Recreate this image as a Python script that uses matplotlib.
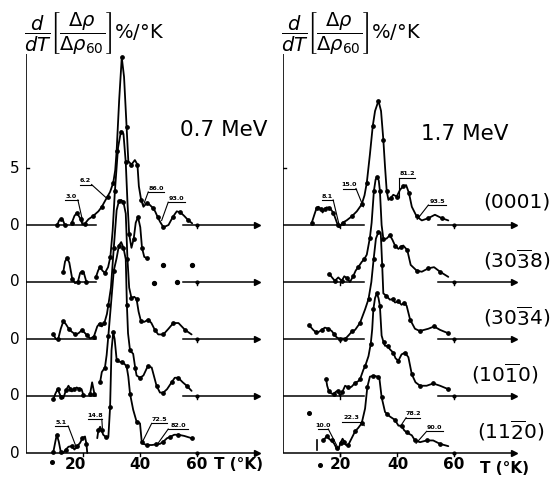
import numpy as np
import matplotlib
matplotlib.use('Agg')
import matplotlib.pyplot as plt

nan = np.nan

# ---------------- data: (T in K, d/dT value relative to own baseline) ----------------
ORIENT_TEXT = ['(0001)', r'(30$\mathregular{\overline{3}}$8)', r'(30$\mathregular{\overline{3}}$4)',
               r'(10$\mathregular{\overline{1}}$0)', r'(11$\mathregular{\overline{2}}$0)']
OFFSETS = [20, 15, 10, 5, 0]

# 0.7 MeV
L1_T = [11.0, 11.6, 12.3, 13.0, 13.6, nan, 16.0, 17.0, 17.8, 18.5, 19.2, 19.8, 20.6, 21.9, 23.6, 25.4,
        26.6, 27.7, 28.6, 29.5, 30.6, 31.3, 31.8, 32.7, 33.6, 34.4, 35.3, 35.9, 37.0, 38.2, 39.1, 39.6,
        40.4, 41.2, 42.3, 43.5, 44.5, 45.3, 46.2, 47.0, 48.2, 50.0, 51.5, 52.9, 54.2, 55.5, 57.0, 58.3]
L1_V = [0.0, 0.4, 0.5, 0.4, 0.0, nan, 0.15, 0.8, 1.05, 0.8, 0.5, 0.05, 0.1, 0.5, 0.8, 1.2,
        1.6, 2.1, 2.5, 2.9, 3.7, 4.8, 6.5, 11.0, 14.7, 13.0, 8.6, 5.6, 5.3, 5.7, 5.3, 3.4,
        2.2, 1.6, 1.9, 1.75, 1.5, 1.2, 0.7, 0.3, -0.2, 0.0, 0.7, 1.2, 1.1, 0.8, 0.4, 0.15]

L2_T = [13.1, 13.7, 14.4, 15.2, 16.2, 17.2, 18.2, 19.0, 19.6, 20.3, 21.2, nan,
        24.5, 25.3, 26.0, 26.8, 27.7, 28.8, 29.6, 30.4, 31.2, 32.3, 33.3, 34.2, 35.0, 35.6,
        36.2, 37.0, 37.8, 38.5, 39.3, 40.1, 40.7, 41.5, 42.4]
L2_V = [0.9, 1.8, 2.1, 1.7, 0.3, -0.1, 0.0, 0.8, 0.9, 0.8, 0.0, nan,
        0.4, 1.0, 1.35, 1.0, 0.8, 1.3, 2.2, 4.5, 8.0, 11.8, 13.2, 13.0, 10.5, 7.0,
        4.2, 3.0, 3.8, 5.2, 5.7, 4.8, 3.0, 2.2, 2.1]
L2_DOTS_T = [44.9, 48.2, 52.9, 58.1]
L2_DOTS_V = [-0.05, 1.5, 0.0, 1.5]

L3_T = [9.6, 10.5, 11.3, 12.2, 13.1, 14.0, 15.0, 16.0, 17.3, 18.4, 19.5, 20.4, 21.3, 22.5, 23.8,
        25.0, 25.8, 26.6, 27.5, 28.4, 28.9, 29.8, 30.8, 31.8, 32.6, 33.4, 34.2, 35.0, 35.6, 36.2,
        37.0, 38.0, 38.8, 39.5, 40.3, 41.5, 42.9, 44.0, 45.2, 46.4, 48.2, 50.0, 51.7, 53.5, 55.8, 58.1]
L3_V = [0.4, 0.0, 0.0, 0.9, 1.55, 1.3, 0.9, 0.65, 0.4, 0.5, 0.75, 0.6, 0.35, 0.05, 0.2,
        1.1, 1.35, 1.1, 1.4, 2.2, 3.0, 4.5, 8.0, 11.3, 12.1, 12.2, 12.0, 11.0, 7.0, 4.5,
        3.6, 3.7, 3.5, 2.4, 1.6, 1.5, 1.7, 1.4, 0.8, 0.4, 0.4, 0.9, 1.4, 1.4, 0.8, 0.4]

L4_T = [9.6, 10.3, 11.1, 11.8, 12.3, 13.1, 14.0, 14.9, 15.6, 16.1, 17.0, 17.8, 18.7, 19.5, 20.1, nan,
        22.5, 23.2, 24.0, nan,
        26.0, 26.6, 27.7, 28.3, 28.9, 29.8, 30.8, 31.8, 32.6, 33.4, 34.2, 35.0, 35.4, 35.8, 36.5,
        37.6, 38.3, 38.8, 40.0, 41.2, 42.7, 44.1, 45.8, 47.0, 48.2, 49.5, 51.1, 52.2, 53.4, 55.0,
        56.4, 58.1]
L4_V = [-0.3, 0.2, 0.6, 0.2, -0.1, -0.2, 0.5, 0.9, 0.6, 0.4, 0.6, 0.75, 0.6, 0.6, 0.1, nan,
        0.2, 1.2, 0.2, nan,
        1.2, 2.1, 2.5, 3.6, 5.3, 8.0, 11.0, 12.1, 13.2, 13.5, 13.0, 12.0, 8.0, 5.5, 4.0,
        3.7, 2.5, 1.8, 1.6, 1.8, 2.6, 2.5, 0.9, 0.3, 0.3, 0.6, 1.2, 1.6, 1.6, 1.2,
        0.9, 0.45]

L5_T = [9.6, 10.3, 10.8, 11.5, 12.2, 13.0, 14.0, 14.9, 16.1, 17.0, 18.0, 19.0, 19.8, 20.7, 21.2, 21.5, nan,
        25.0, 25.4, 26.0, 26.5, 27.1, 28.0, 28.9, 29.5, 30.0, 30.6, 31.1, 31.8, 32.6, 33.6, 34.6,
        35.3, 35.9, 36.5, 37.6, 38.8, 40.0, 40.6, 41.2, 42.5, 44.2, 45.5, 47.0, 48.2, 49.5, 50.5,
        52.0, 53.5, 55.5, 58.1]
L5_V = [0.1, 1.0, 1.6, 1.0, 0.1, 0.0, 0.3, 0.55, 0.6, 0.3, 0.6, 0.9, 1.3, 1.45, 0.8, 0.0, nan,
        1.3, 2.0, 2.3, 2.0, 1.6, 1.4, 1.4, 4.0, 9.0, 10.6, 10.0, 8.2, 8.0, 8.0, 7.8,
        7.6, 6.7, 5.2, 3.8, 2.75, 2.6, 1.0, 0.8, 0.7, 0.7, 0.75, 0.8, 1.0, 1.3, 1.4,
        1.6, 1.6, 1.5, 1.3]

# 1.7 MeV
R1_T = [10.1, 11.0, 11.8, 12.5, 13.2, 13.9, 14.6, 15.3, 16.2, 17.0, 17.7, 18.5, 19.2, 19.8, 20.9,
        22.3, 24.1, 25.9, 27.6, 28.6, 29.4, 30.5, 31.5, 32.3, 33.5, 34.4, 35.2, 35.8, 36.4, 37.0,
        37.9, 38.7, 39.9, 41.1, 42.2, 43.2, 44.2, 45.2, 46.9, 48.7, 51.0, 53.3, 55.7, 58.0]
R1_V = [0.2, 0.9, 1.5, 1.6, 1.4, 1.1, 1.4, 1.55, 1.5, 1.3, 1.05, 0.5, 0.0, -0.2, 0.2,
        0.4, 0.75, 1.2, 1.8, 2.6, 3.7, 6.2, 8.7, 10.0, 10.9, 10.0, 7.5, 5.1, 2.95, 2.2,
        2.4, 2.65, 2.5, 3.1, 3.4, 3.5, 2.8, 1.6, 0.75, 0.4, 0.6, 0.9, 0.6, 0.4]

R2_T = [16.3, 17.2, 18.2, 19.4, 20.6, 21.5, 22.4, 23.5, 24.7, 25.5, 26.4, 27.6, 28.5, 29.4, 30.5,
        31.1, 31.9, 32.5, 33.1, 33.6, 34.0, 34.6, 35.2, 36.3, 37.5, 38.4, 39.3, 40.5, 41.4, 42.2,
        43.6, 44.8, 46.9, 48.7, 51.0, 53.0, 55.1, 58.0]
R2_V = [0.7, 0.4, 0.1, 0.4, 0.1, 0.5, 0.35, 0.0, 0.55, 1.0, 1.3, 1.75, 2.0, 2.4, 3.9,
        5.2, 8.0, 9.0, 9.2, 8.9, 8.0, 5.0, 3.8, 3.8, 4.1, 3.7, 3.2, 2.9, 3.1, 3.2,
        2.8, 1.5, 1.0, 0.9, 1.2, 1.3, 0.9, 0.45]

R3_T = [9.2, 10.6, 11.5, 12.4, 13.6, 14.7, 15.9, 17.1, 18.0, 18.8, 20.0, 21.0, 21.8, 23.3, 24.3,
        25.3, 27.0, 28.8, 30.0, 31.0, 31.8, 32.6, 33.5, 34.3, 34.8, 35.2, 36.2, 37.5, 38.5, 39.3,
        40.5, 41.6, 42.6, 43.4, 44.6, 46.3, 48.0, 51.0, 53.0, 55.1, 58.0]
R3_V = [1.2, 0.8, 0.6, 0.6, 0.8, 1.0, 0.9, 0.7, 0.4, 0.15, 0.0, 0.05, 0.0, 0.4, 0.7,
        0.8, 1.4, 2.6, 3.5, 5.0, 7.0, 8.8, 9.4, 9.3, 6.5, 4.0, 3.8, 3.45, 3.5, 3.2,
        3.3, 3.0, 3.2, 2.9, 1.7, 0.9, 0.7, 0.9, 1.1, 0.8, 0.5]

R4_T = [15.1, 15.5, 16.1, 17.1, 17.8, 18.7, 19.4, 20.0, 20.8, 21.8, 22.9, 24.0, 25.3, 26.4, 27.0,
        28.2, 28.8, 30.0, 30.8, 31.3, 31.7, 32.3, 32.9, 33.5, 34.0, 34.6, 35.3, 35.8, 36.8, 37.5,
        38.7, 39.5, 40.5, 41.6, 42.8, 44.0, 45.2, 46.5, 48.1, 50.4, 52.7, 55.1, 58.0]
R4_V = [1.5, 0.9, 0.4, 0.2, 0.2, 0.4, 0.4, 0.0, 0.35, 0.9, 0.75, 0.8, 1.15, 1.3, 1.45,
        2.3, 2.6, 3.5, 4.6, 5.85, 7.6, 8.6, 9.0, 8.6, 7.9, 5.3, 4.7, 4.4, 4.4, 4.1,
        3.8, 3.3, 3.1, 3.65, 3.8, 3.4, 1.9, 1.2, 0.9, 0.9, 1.1, 0.9, 0.6]

R5_T = [14.1, 14.8, 15.5, 16.3, 17.1, 18.0, 18.8, 19.4, 20.2, 20.9, 21.5, 22.1, 22.9, 24.1, 25.3,
        26.4, 27.6, 28.8, 29.6, 30.5, 31.5, 32.3, 33.2, 33.8, 34.6, 35.8, 36.6, 37.5, 39.3, 40.5,
        41.6, 42.5, 43.4, 45.2, 46.3, 48.1, 50.4, 52.7, 55.1, 58.0]
R5_V = [1.1, 1.3, 1.5, 1.2, 1.1, 0.8, 0.4, 0.3, 0.9, 1.25, 1.0, 0.7, 0.7, 1.3, 1.9,
        2.2, 2.6, 3.9, 5.8, 6.7, 6.75, 6.75, 6.7, 6.6, 4.9, 3.6, 3.4, 3.2, 2.9, 2.4,
        2.4, 2.0, 1.8, 1.55, 1.1, 0.95, 1.1, 1.1, 0.8, 0.6]

# recovery-fraction notes (%), four per panel edge curve
NOTES_L_TOP = ['3.0', '6.2', '86.0', '93.0']
NOTES_L_BOT = ['5.1', '14.8', '72.5', '82.0']
NOTES_R_TOP = ['8.1', '15.0', '81.2', '93.5']
NOTES_R_BOT = ['10.0', '22.3', '78.2', '90.0']

# ---------------- layout (pixel geometry of the original) ----------------
W, H = 557, 479
PX_T = 2.85       # px per K
PX_V = 11.4       # px per unit
Y0 = 453          # bottom baseline px
TMAX, VMIN, VMAX = 82, -2, 36

plt.rcParams['font.family'] = ['DejaVu Sans']
plt.rcParams['mathtext.fontset'] = 'dejavusans'

fig = plt.figure(figsize=(W / 100, H / 100), dpi=100)
fig.patch.set_facecolor('white')

def make_axes(x_px):
    b = (H - Y0 + VMIN * PX_V) / H
    ax = fig.add_axes([x_px / W, b, TMAX * PX_T / W, (VMAX - VMIN) * PX_V / H])
    ax.set_xlim(0, TMAX)
    ax.set_ylim(VMIN, VMAX)
    ax.axis('off')
    return ax

axL = make_axes(26)
axR = make_axes(283)

LW = 1.3
K = 'black'

def frame(ax, left_end, right_start, ticks20):
    ax.plot([0, 0], [0, 35], color=K, lw=1.2, solid_capstyle='butt')
    ax.plot([0, 0.9], [25, 25], color=K, lw=1.0)
    for off in OFFSETS:
        if off == 0:
            ax.plot([0, 80.5], [0, 0], color=K, lw=1.1)
        else:
            ax.plot([0, left_end], [off, off], color=K, lw=1.1)
            ax.plot([right_start, 80.5], [off, off], color=K, lw=1.1)
        ax.plot([81], [off], marker='>', ms=4, color=K, mec=K)
        ax.plot([60, 60], [off, off - 0.3], color=K, lw=1.0)
        ax.plot([60], [off], marker='o', ms=2, color=K)
        if ticks20:
            ax.plot([20, 20], [off, off - 0.3], color=K, lw=1.0)
    ax.plot([40, 40], [0, -0.3], color=K, lw=1.0)
    ax.plot([20, 20], [0, -0.3], color=K, lw=1.0)

frame(axL, 24.5, 55.0, False)
frame(axR, 28.3, 54.5, True)

def curve(ax, T, V, off, every=2):
    ax.plot(T, np.array(V) + off, color=K, lw=LW, marker='o', ms=2.4,
            markevery=every, solid_joinstyle='round', solid_capstyle='round')

for T, V, off in zip([L1_T, L2_T, L3_T, L4_T, L5_T], [L1_V, L2_V, L3_V, L4_V, L5_V], OFFSETS):
    curve(axL, T, V, off)
axL.plot(L2_DOTS_T, np.array(L2_DOTS_V) + 15, 'o', color=K, ms=2.8)

for T, V, off in zip([R1_T, R2_T, R3_T, R4_T, R5_T], [R1_V, R2_V, R3_V, R4_V, R5_V], OFFSETS):
    curve(axR, T, V, off)

# stray marks from the original plate
axL.plot([9.1], [-0.8], 'o', color=K, ms=2.6, clip_on=False)
axR.plot([13.0], [-1.05], 'o', color=K, ms=2.6, clip_on=False)
axR.plot([9.2], [3.5], 'o', color=K, ms=2.6)
axR.plot([11.8, 11.8], [0.25, 1.15], color=K, lw=1.2)

# ---------------- notes with leader lines ----------------
def note(ax, text, x0, x1, y, tx, ty, left_attach):
    ax.plot([x0, x1], [y, y], color=K, lw=0.8)
    ax.text((x0 + x1) / 2, y + 0.12, text, fontsize=4.6, fontweight='bold',
            ha='center', va='bottom')
    ax_ = x0 if left_attach else x1
    ax.plot([ax_, tx], [y, ty], color=K, lw=0.8)

# underline x0, x1, y, leader target T, v, attach at left end
L_TOP_POS = [(13.7, 18.2, 22.2, 20.0, 20.2, False), (18.9, 23.0, 23.55, 28.3, 22.35, False),
             (42.9, 48.4, 22.9, 41.2, 21.75, True), (49.9, 55.8, 22.0, 47.6, 20.4, True)]
L_BOT_POS = [(10.2, 14.8, 2.37, 17.8, 0.4, False), (21.9, 26.6, 2.96, 26.8, 2.2, False),
             (44.1, 49.4, 2.6, 40.6, 0.85, True), (49.9, 56.9, 2.1, 45.9, 0.7, True)]
R_TOP_POS = [(13.6, 17.6, 22.2, 19.7, 20.0, False), (20.9, 25.6, 23.2, 28.2, 21.6, False),
             (40.8, 46.3, 24.15, 40.8, 22.5, True), (51.0, 57.2, 21.75, 47.1, 20.5, True)]
R_BOT_POS = [(12.4, 15.9, 2.1, 19.4, 0.4, False), (20.6, 27.6, 2.75, 28.5, 2.4, False),
             (43.2, 48.1, 3.1, 41.1, 2.3, True), (50.4, 56.0, 1.9, 46.7, 0.85, True)]

for ax, labels, pos in [(axL, NOTES_L_TOP, L_TOP_POS), (axL, NOTES_L_BOT, L_BOT_POS),
                        (axR, NOTES_R_TOP, R_TOP_POS), (axR, NOTES_R_BOT, R_BOT_POS)]:
    for lab, p in zip(labels, pos):
        note(ax, lab, *p)

# ---------------- text ----------------
for off in OFFSETS:
    axL.text(-3.9, off, '0', fontsize=11, ha='center', va='center')
axL.text(-3.9, 25, '5', fontsize=11, ha='center', va='center')

for ax, xs in [(axL, [17.5, 40, 60]), (axR, [20, 40.5, 60])]:
    for x, lab in zip(xs, ['20', '40', '60']):
        ax.text(x, -1.05, lab, fontsize=11, fontweight='bold', ha='center', va='center')
axL.text(74.5, -1.05, 'T (°K)', fontsize=11, fontweight='bold', ha='center', va='center')
axR.text(77.8, -1.4, 'T (°K)', fontsize=11, fontweight='bold', ha='center', va='center')

axL.text(69.5, 28.3, '0.7 MeV', fontsize=15.5, ha='center', va='center')
axR.text(63.8, 28.0, '1.7 MeV', fontsize=15.5, ha='center', va='center')

for off, lab, x in zip(OFFSETS, ORIENT_TEXT, [82.0, 81.8, 81.8, 77.8, 80.0]):
    axR.text(x, off + 2.0, lab, fontsize=14.5, ha='center', va='center')

ylab = r'$\dfrac{d}{dT}\left[\dfrac{\Delta\rho}{\Delta\rho_{60}}\right]$%/°K'
fig.text(24 / W, 1 - 34 / H, ylab, fontsize=14, ha='left', va='center')
fig.text(281 / W, 1 - 34 / H, ylab, fontsize=14, ha='left', va='center')

fig.savefig('out.png', dpi=100, facecolor='white')
